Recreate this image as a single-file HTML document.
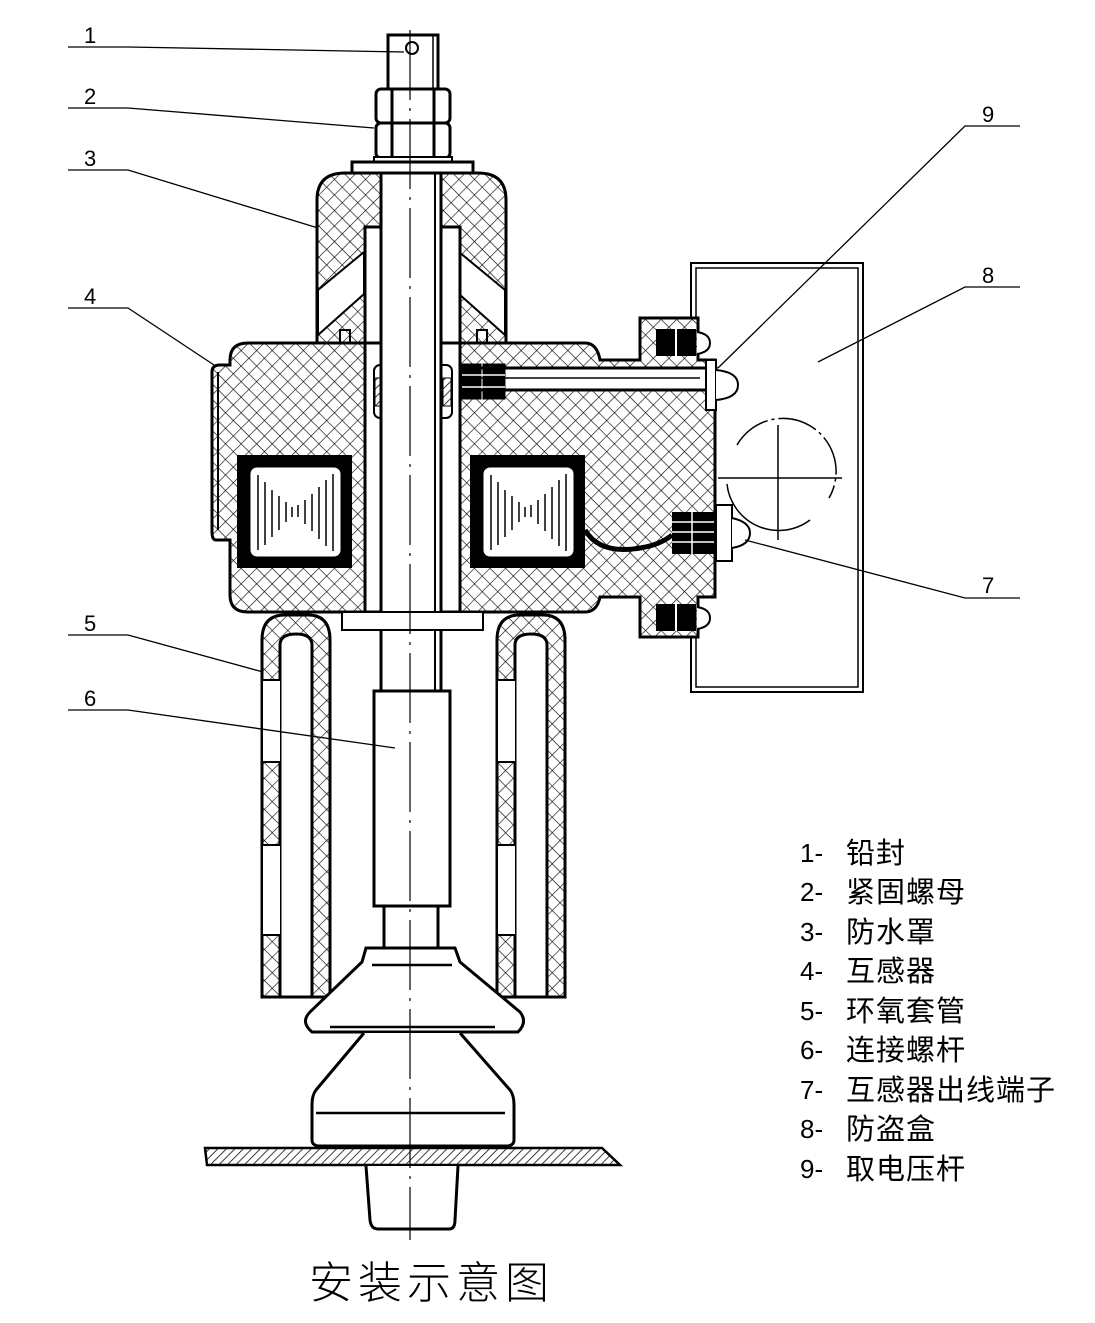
<!DOCTYPE html>
<html><head><meta charset="utf-8"><style>
html,body{margin:0;padding:0;background:#fff}
svg{display:block}
.t{font-family:"Liberation Sans","Noto Sans CJK SC",sans-serif;font-size:26px;fill:#000}
.c{font-size:29px;letter-spacing:1px}
.n{font-family:"Liberation Sans",sans-serif;font-size:22px;fill:#000}
</style></head><body>
<svg width="1095" height="1323" viewBox="0 0 1095 1323" xmlns="http://www.w3.org/2000/svg">
<defs>
<pattern id="x" width="11" height="11" patternUnits="userSpaceOnUse" patternTransform="rotate(45)">
<rect width="11" height="11" fill="#fff"/>
<path d="M0 0H11M0 0V11" stroke="#000" stroke-width="1.2"/>
</pattern>
<pattern id="d" width="6" height="6" patternUnits="userSpaceOnUse" patternTransform="rotate(45)">
<rect width="6" height="6" fill="#fff"/><path d="M0 0V6" stroke="#000" stroke-width="1.5"/>
</pattern>
</defs>
<g fill="none" stroke="#000" stroke-width="3">
<rect x="691" y="263" width="172" height="429" stroke-width="2"/>
<rect x="696" y="268" width="162" height="419" stroke-width="1.5"/>
<path d="M737 445 A52 52 0 1 1 829 498" stroke-width="1.5" stroke-dasharray="40 4 3 4"/>
<path d="M727 484 A52 52 0 0 0 810 520" stroke-width="1.5"/>
<path d="M778 425V540M718 478H842" stroke-width="1.5"/>

<rect x="388" y="35" width="50" height="55" fill="#fff"/>
<line x1="433" y1="35" x2="433" y2="90" stroke-width="1.5"/>
<circle cx="412" cy="48" r="6" stroke-width="2"/>
<rect x="376" y="89" width="74" height="34" rx="5" fill="#fff"/>
<rect x="376" y="123" width="74" height="35" rx="5" fill="#fff"/>
<path d="M392 89V158M434 89V158"/>
<rect x="374" y="157" width="78" height="5" fill="#fff" stroke-width="2"/>
<rect x="352" y="162" width="121" height="11" fill="#fff"/>

<path d="M317 343V200Q317 173 345 173H478Q506 173 506 200V343Z" fill="url(#x)"/>
<polygon points="318,290 364,252 364,294 318,335" fill="#fff" stroke-width="2"/>
<polygon points="505,290 459,252 459,294 505,335" fill="#fff" stroke-width="2"/>
<rect x="365" y="227" width="95" height="120" fill="#fff"/>
<rect x="340" y="330" width="10" height="13" stroke-width="2"/>
<rect x="477" y="330" width="10" height="13" stroke-width="2"/>

<path d="M248 343H585Q597 343 600 360H640V318H698V360H715V597H698V637H640V597H600Q597 612 585 612H248Q230 612 230 595V540H216Q212 540 212 532V372Q212 365 220 365H230V360Q230 343 248 343Z" fill="url(#x)"/>
<path d="M218 372V530" stroke-width="2"/>
<rect x="365" y="343" width="95" height="269" fill="#fff"/>
<rect x="460" y="368" width="256" height="22" fill="#fff"/>
<path d="M470 378H700" stroke-width="1.5"/>
<rect x="706" y="360" width="10" height="50" fill="#fff" stroke-width="2"/>
<path d="M716 370Q738 372 738 385Q738 398 716 400" fill="#fff" stroke-width="2"/>
<rect x="462" y="365" width="18" height="33" fill="#000"/>
<rect x="484" y="365" width="20" height="33" fill="#000"/>
<path d="M462 375H505M462 387H505" stroke="#fff" stroke-width="1.5"/>
<rect x="374" y="365" width="78" height="53" rx="6" fill="#fff" stroke-width="2"/>
<rect x="375" y="378" width="8" height="28" fill="url(#d)" stroke-width="1"/>
<rect x="443" y="378" width="8" height="28" fill="url(#d)" stroke-width="1"/>
<rect x="237" y="455" width="115" height="113" fill="#000" stroke="none"/>
<rect x="249" y="466" width="93" height="92" rx="8" fill="#fff"/>
<rect x="470" y="455" width="115" height="113" fill="#000" stroke="none"/>
<rect x="482" y="466" width="93" height="92" rx="8" fill="#fff"/>
<g stroke-width="1.5">
<path d="M258 475V550M265 482V545M272 490V537M279 496V530M286 502V522M292 507V517M298 505V517M305 500V524M312 494V531M319 487V539M326 480V546M333 474V551"/>
<path d="M491 475V550M498 482V545M505 490V537M512 496V530M519 502V522M525 507V517M531 505V517M538 500V524M545 494V531M552 487V539M559 480V546M566 474V551"/>
</g>
<path d="M585 530Q600 555 640 548Q660 545 672 535" stroke-width="5"/>
<rect x="672" y="512" width="42" height="42" fill="#000" stroke="none"/>
<path d="M672 522H714M672 532H714M672 542H714M692 512V554" stroke="#fff" stroke-width="1.5"/>
<rect x="716" y="505" width="16" height="56" fill="#fff" stroke-width="2"/>
<path d="M732 518Q750 522 750 533Q750 545 732 548" fill="#fff" stroke-width="2"/>
<rect x="656" y="329" width="40" height="27" fill="#000" stroke="none"/>
<path d="M676 329V356" stroke="#fff" stroke-width="2"/>
<path d="M697 332Q710 334 710 343Q710 352 697 354" fill="#fff" stroke-width="2"/>
<rect x="656" y="604" width="40" height="27" fill="#000" stroke="none"/>
<path d="M676 604V631" stroke="#fff" stroke-width="2"/>
<path d="M697 607Q710 609 710 618Q710 627 697 629" fill="#fff" stroke-width="2"/>

<rect x="381" y="173" width="60" height="518" fill="#fff"/>
<line x1="435" y1="173" x2="435" y2="691" stroke-width="2"/>
<rect x="342" y="612" width="141" height="18" fill="#fff" stroke-width="2"/>

<path d="M262 997V640Q262 615 285 615H308Q330 615 330 640V997Z" fill="url(#x)"/>
<path d="M280 997V645Q280 634 296 634Q312 634 312 645V997Z" fill="#fff"/>
<rect x="263" y="680" width="17" height="82" fill="#fff" stroke="none"/>
<rect x="263" y="845" width="17" height="90" fill="#fff" stroke="none"/>
<path d="M262 680H280M262 762H280M262 845H280M262 935H280" stroke-width="2"/>
<path d="M497 997V640Q497 615 520 615H543Q565 615 565 640V997Z" fill="url(#x)"/>
<path d="M515 997V645Q515 634 531 634Q547 634 547 645V997Z" fill="#fff"/>
<rect x="498" y="680" width="17" height="82" fill="#fff" stroke="none"/>
<rect x="498" y="845" width="17" height="90" fill="#fff" stroke="none"/>
<path d="M497 680H515M497 762H515M497 845H515M497 935H515" stroke-width="2"/>

<rect x="374" y="691" width="76" height="215" fill="#fff"/>
<rect x="384" y="906" width="54" height="42" fill="#fff"/>
<path d="M366 948H455L460 962L520 1012Q528 1022 518 1032H312Q300 1022 310 1012L362 962Z" fill="#fff"/>
<path d="M372 965H452M330 1027H495" stroke-width="2.5"/>
<path d="M364 1033L316 1090Q312 1095 312 1105V1140Q312 1145 318 1146H508Q514 1145 514 1140V1105Q514 1095 510 1090L460 1033" fill="#fff"/>
<path d="M316 1113H505" stroke-width="2.5"/>
<path d="M205 1148H602L620 1165H207Z" fill="url(#d)" stroke-width="2.5"/>
<path d="M366 1166L370 1220Q371 1229 378 1229H449Q455 1229 455 1220L458 1166" fill="#fff"/>
</g>
<path d="M410 30V1240" stroke="#000" stroke-width="1.2" stroke-dasharray="70 8 3 8"/>

<g stroke="#000" stroke-width="1.3" fill="none">
<path d="M68 47H128L404 52"/>
<path d="M68 108H128L374 128"/>
<path d="M68 170H128L318 228"/>
<path d="M68 308H128L214 365"/>
<path d="M68 635H128L263 672"/>
<path d="M68 710H128L395 748"/>
<path d="M1020 126H965L718 368"/>
<path d="M1020 287H965L818 362"/>
<path d="M1020 598H965L745 540"/>
</g>
<g class="n">
<text x="84" y="43">1</text><text x="84" y="104">2</text><text x="84" y="166">3</text>
<text x="84" y="304">4</text><text x="84" y="631">5</text><text x="84" y="706">6</text>
<text x="982" y="122">9</text><text x="982" y="283">8</text><text x="982" y="593">7</text>
</g>
<g class="t">
<text x="800" y="862">1-</text><text class="c" x="846" y="863">铅封</text>
<text x="800" y="901">2-</text><text class="c" x="846" y="902">紧固螺母</text>
<text x="800" y="941">3-</text><text class="c" x="846" y="942">防水罩</text>
<text x="800" y="980">4-</text><text class="c" x="846" y="981">互感器</text>
<text x="800" y="1020">5-</text><text class="c" x="846" y="1021">环氧套管</text>
<text x="800" y="1059">6-</text><text class="c" x="846" y="1060">连接螺杆</text>
<text x="800" y="1099">7-</text><text class="c" x="846" y="1100">互感器出线端子</text>
<text x="800" y="1138">8-</text><text class="c" x="846" y="1139">防盗盒</text>
<text x="800" y="1178">9-</text><text class="c" x="846" y="1179">取电压杆</text>
</g>
<text x="309" y="1298" textLength="240" lengthAdjust="spacing" style="font-family:'Noto Sans CJK SC',sans-serif;font-size:44px;font-weight:300" fill="#000">安装示意图</text>
</svg>
</body></html>
